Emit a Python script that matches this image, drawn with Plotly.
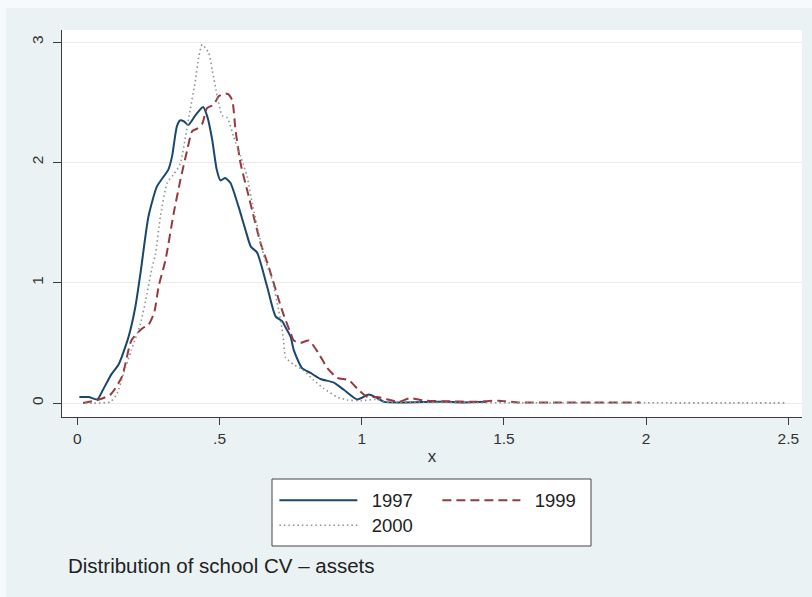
import plotly.graph_objects as go

# Kernel density estimates of school CV (assets), by survey year
x_1997 = [0.007, 0.04, 0.07, 0.09, 0.12, 0.145, 0.18, 0.204, 0.222, 0.25, 0.28, 0.32,
          0.333, 0.35, 0.362, 0.375, 0.39, 0.415, 0.442, 0.457, 0.474, 0.49, 0.503,
          0.52, 0.538, 0.567, 0.591, 0.61, 0.632, 0.667, 0.697, 0.72, 0.732, 0.75,
          0.761, 0.79, 0.82, 0.855, 0.902, 0.937, 0.984, 1.025, 1.055, 1.078, 1.15,
          1.25, 1.3, 1.35, 1.44]
y_1997 = [0.05, 0.05, 0.03, 0.11, 0.24, 0.32, 0.55, 0.80, 1.08, 1.55, 1.80, 1.94,
          2.05, 2.30, 2.35, 2.34, 2.31, 2.39, 2.46, 2.38, 2.19, 1.94, 1.85,
          1.87, 1.83, 1.63, 1.44, 1.30, 1.25, 0.97, 0.72, 0.68, 0.63, 0.55,
          0.44, 0.29, 0.25, 0.20, 0.17, 0.11, 0.03, 0.07, 0.04, 0.01, 0.005,
          0.01, 0.01, 0.005, 0.01]

x_1999 = [0.02, 0.07, 0.116, 0.157, 0.19, 0.228, 0.25, 0.27, 0.286, 0.31, 0.339, 0.362,
          0.386, 0.404, 0.421, 0.439, 0.456, 0.48, 0.497, 0.527, 0.544, 0.556, 0.574,
          0.597, 0.62, 0.644, 0.673, 0.72, 0.75, 0.761, 0.785, 0.814, 0.849, 0.879,
          0.914, 0.955, 0.984, 1.02, 1.055, 1.10, 1.13, 1.17, 1.22, 1.3, 1.4, 1.48,
          1.55, 1.7, 1.85, 1.98]
y_1999 = [0.0, 0.025, 0.07, 0.22, 0.52, 0.62, 0.65, 0.75, 0.97, 1.19, 1.58, 1.85,
          2.10, 2.26, 2.28, 2.32, 2.45, 2.48, 2.55, 2.57, 2.52, 2.27, 1.99,
          1.77, 1.55, 1.33, 1.13, 0.77, 0.58, 0.52, 0.50, 0.52, 0.41, 0.29,
          0.21, 0.19, 0.12, 0.05, 0.05, 0.025, 0.01, 0.04, 0.02, 0.015, 0.01, 0.02,
          0.005, 0.005, 0.005, 0.005]

x_2000 = [0.028, 0.116, 0.14, 0.163, 0.19, 0.222, 0.245, 0.263, 0.274, 0.292, 0.316,
          0.339, 0.362, 0.38, 0.397, 0.415, 0.427, 0.439, 0.45, 0.462, 0.474, 0.492,
          0.509, 0.527, 0.55, 0.574, 0.597, 0.615, 0.638, 0.656, 0.685, 0.708, 0.72,
          0.726, 0.732, 0.761, 0.796, 0.831, 0.867, 0.914, 0.949, 1.0, 1.05, 1.1,
          1.2, 1.4, 1.7, 2.0, 2.3, 2.497]
y_2000 = [0.0, 0.01, 0.08, 0.25, 0.44, 0.66, 0.91, 1.13, 1.23, 1.55, 1.83,
          1.90, 1.99, 2.21, 2.44, 2.68, 2.88, 2.98, 2.95, 2.91, 2.77, 2.55,
          2.39, 2.37, 2.21, 2.05, 1.88, 1.66, 1.41, 1.22, 1.02, 0.77, 0.61,
          0.50, 0.38, 0.32, 0.27, 0.19, 0.12, 0.05, 0.025, 0.02, 0.03, 0.005,
          0.005, 0.003, 0.002, 0.002, 0.001, 0.001]

x_ticks = [0, 0.5, 1, 1.5, 2, 2.5]
x_tick_text = ["0", ".5", "1", "1.5", "2", "2.5"]
y_ticks = [0, 1, 2, 3]
series_names = ["1997", "1999", "2000"]
caption = "Distribution of school CV \u2013 assets"

FONT = "Liberation Sans, Arial, Helvetica, sans-serif"
BG = "#eaf2f3"
AXIS = "#3c3c3c"
GAP = "\u2002"  # small gap between a legend key and its label

fig = go.Figure()
fig.add_trace(go.Scatter(
    x=x_1997, y=y_1997, name=GAP + series_names[0], mode="lines", legend="legend",
    line=dict(color="#1a476f", width=2, shape="spline", smoothing=0.6)))
fig.add_trace(go.Scatter(
    x=x_1999, y=y_1999, name=GAP + series_names[1], mode="lines", legend="legend",
    line=dict(color="#953a40", width=2, dash="9px,5px", shape="spline", smoothing=0.6)))
fig.add_trace(go.Scatter(
    x=x_2000, y=y_2000, name=GAP + series_names[2], mode="lines", legend="legend2",
    line=dict(color="#8c968c", width=1.6, dash="1.5px,3px", shape="spline", smoothing=0.6)))

legend_common = dict(
    orientation="h", xanchor="left", yanchor="middle",
    bgcolor="rgba(0,0,0,0)", borderwidth=0, itemwidth=78,
    font=dict(family=FONT, size=18.5, color="#222222"),
    entrywidth=70, tracegroupgap=0,
)

fig.update_layout(
    width=812, height=597,
    margin=dict(l=62, r=10, t=30, b=180),
    paper_bgcolor=BG, plot_bgcolor="white",
    font=dict(family=FONT, color="#333333"),
    showlegend=True,
    legend=dict(x=0.287, y=-0.2163, **legend_common),
    legend2=dict(x=0.287, y=-0.281, **legend_common),
    xaxis=dict(
        range=[-0.054, 2.548], tickvals=x_ticks, ticktext=x_tick_text,
        showgrid=False, zeroline=False, showline=True, linecolor=AXIS, linewidth=1,
        ticks="outside", ticklen=7, tickcolor=AXIS, tickwidth=1,
        tickfont=dict(size=15.5, color="#333333"),
        title=dict(text="x", font=dict(size=17, color="#333333"), standoff=4),
    ),
    yaxis=dict(
        range=[-0.116, 3.10], tickvals=y_ticks, tickangle=-90,
        showgrid=True, gridcolor="#ebebeb", gridwidth=1, zeroline=False,
        showline=True, linecolor=AXIS, linewidth=1,
        ticks="outside", ticklen=8, tickcolor=AXIS, tickwidth=1,
        ticklabelstandoff=4,
        tickfont=dict(size=15.5, color="#333333"),
    ),
    shapes=[
        # legend frame
        dict(type="rect", xref="paper", yref="paper",
             x0=(272 - 62) / 740, x1=(591 - 62) / 740,
             y0=(417 - 546) / 387, y1=(417 - 479) / 387,
             line=dict(color="#444444", width=1), fillcolor="white", layer="below"),
        # light outer strips of the graph region
        dict(type="rect", xref="paper", yref="paper",
             x0=-62 / 740, x1=750 / 740, y0=1 + 22 / 387, y1=1 + 30 / 387,
             line=dict(width=0), fillcolor="#f7fafa", layer="below"),
        dict(type="rect", xref="paper", yref="paper",
             x0=-62 / 740, x1=-56 / 740, y0=-180 / 387, y1=1 + 30 / 387,
             line=dict(width=0), fillcolor="#f7fafa", layer="below"),
    ],
    annotations=[
        dict(text=caption, xref="paper", yref="paper", x=(66 - 62) / 740,
             y=(417 - 565) / 387, xanchor="left", yanchor="middle", showarrow=False,
             font=dict(size=20.5, color="#222222", family=FONT)),
    ],
)

fig.write_html("out.html")
